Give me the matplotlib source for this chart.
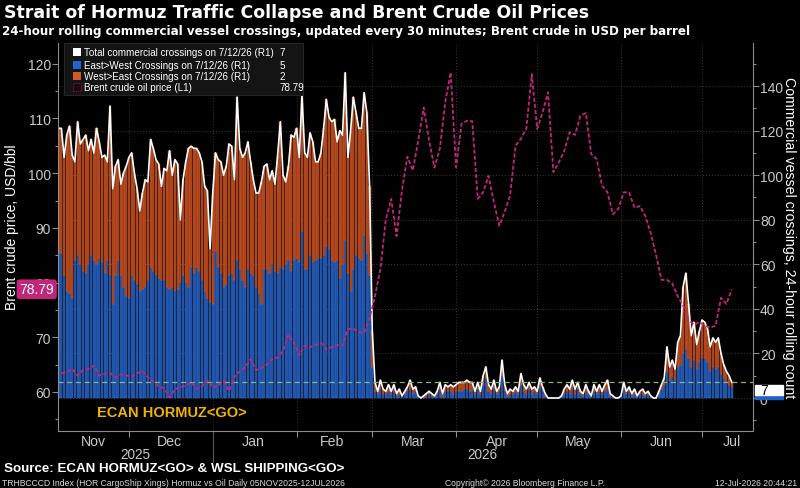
import numpy as np
import pandas as pd
import matplotlib
matplotlib.use("Agg")
import matplotlib.pyplot as plt
import matplotlib.dates as mdates
import matplotlib.transforms as mtrans
from matplotlib.patches import Rectangle
from matplotlib.ticker import MultipleLocator, NullFormatter

# ---------------- data ----------------
start_date = "2025-11-05"

total_crossings = [
    121, 121, 108, 118, 122, 109, 106, 124, 114, 116,
    118, 111, 116, 110, 121, 115, 108, 109, 106, 131,
    94, 104, 107, 96, 101, 104, 108, 110, 101, 94,
    84, 92, 98, 97, 116, 112, 107, 105, 95, 103,
    102, 111, 100, 107, 105, 80, 98, 106, 112, 113,
    112, 112, 110, 106, 95, 93, 67, 92, 110, 107,
    106, 100, 104, 114, 113, 98, 135, 112, 108, 110,
    115, 106, 98, 92, 92, 97, 104, 105, 98, 102,
    96, 109, 124, 100, 97, 104, 118, 117, 121, 108,
    136, 110, 108, 119, 115, 106, 106, 110, 121, 134,
    126, 124, 125, 115, 120, 118, 146, 108, 120, 135,
    128, 121, 121, 137, 128, 95, 30, 7, 3, 8,
    4, 3, 6, 3, 6, 2, 4, 1, 3, 5,
    8, 4, 5, 1, 0, 1, 2, 3, 2, 1,
    3, 7, 2, 6, 5, 6, 5, 6, 7, 7,
    7, 8, 7, 7, 3, 7, 3, 10, 14, 6,
    4, 8, 3, 5, 17, 6, 2, 4, 3, 5,
    3, 11, 6, 4, 7, 4, 5, 3, 9, 5,
    2, 0, 0, 0, 0, 0, 1, 4, 6, 4,
    8, 4, 7, 3, 2, 6, 3, 1, 6, 3,
    6, 3, 6, 8, 2, 1, 0, 0, 1, 7,
    3, 5, 2, 4, 1, 3, 4, 2, 3, 1,
    0, 0, 3, 6, 9, 23, 14, 17, 13, 25,
    28, 50, 56, 42, 28, 34, 24, 30, 35, 34,
    31, 23, 27, 25, 27, 20, 15, 12, 10, 7,
]

east_west_crossings = [
    65, 65, 55, 48, 47, 45, 62, 64, 60, 57,
    56, 60, 64, 62, 60, 63, 61, 56, 62, 55,
    42, 55, 62, 55, 50, 46, 45, 55, 53, 51,
    48, 49, 50, 53, 59, 57, 55, 54, 53, 53,
    50, 49, 50, 48, 49, 52, 55, 52, 50, 59,
    56, 59, 57, 53, 48, 45, 43, 42, 66, 59,
    56, 50, 51, 55, 56, 53, 62, 58, 53, 50,
    58, 56, 55, 50, 47, 42, 58, 58, 56, 60,
    57, 56, 59, 58, 60, 62, 57, 62, 63, 61,
    75, 58, 58, 64, 61, 62, 63, 63, 64, 68,
    67, 62, 61, 62, 54, 60, 71, 56, 48, 58,
    64, 63, 62, 73, 65, 55, 14, 3, 2, 4,
    2, 2, 3, 2, 3, 1, 2, 1, 2, 3,
    4, 2, 3, 1, 0, 0, 1, 2, 1, 1,
    2, 4, 1, 3, 3, 3, 2, 3, 3, 3,
    4, 4, 3, 3, 2, 4, 2, 6, 9, 3,
    2, 4, 2, 3, 10, 3, 1, 2, 2, 3,
    2, 6, 3, 2, 4, 2, 3, 2, 5, 3,
    1, 0, 0, 0, 0, 0, 1, 2, 3, 2,
    4, 2, 4, 2, 1, 3, 2, 1, 3, 2,
    3, 2, 3, 4, 1, 1, 0, 0, 1, 4,
    2, 3, 1, 2, 1, 2, 2, 1, 2, 1,
    0, 0, 2, 4, 6, 12, 8, 10, 8, 14,
    15, 20, 22, 18, 14, 17, 13, 16, 18, 18,
    16, 12, 14, 13, 14, 11, 9, 7, 6, 5,
]

price_start = "2025-11-06"   # Brent sampled every 2 days
brent_price = [
    63.4, 63.7, 64.2, 63.0, 64.0, 64.2, 64.8, 63.0, 63.3, 63.5,
    62.7, 63.2, 63.0, 62.8, 63.4, 63.8, 62.7, 61.9, 61.0, 60.7,
    59.0, 60.5, 60.9, 61.2, 61.8, 60.6, 61.0, 62.1, 60.8, 61.2,
    62.0, 60.2, 62.8, 63.8, 64.5, 66.0, 64.0, 64.4, 65.0, 66.0,
    66.3, 67.5, 70.5, 69.0, 66.7, 68.5, 68.2, 68.6, 69.0, 67.8,
    68.2, 68.6, 68.5, 71.5, 71.6, 71.0, 70.8, 73.5, 77.5, 82.5,
    91.5, 95.3, 88.5, 97.0, 103.0, 100.5, 106.0, 112.0, 106.0, 101.0,
    104.5, 113.0, 118.4, 101.1, 109.0, 109.6, 109.5, 95.3, 96.5, 99.5,
    94.7, 90.4, 93.0, 96.0, 105.0, 106.3, 108.2, 118.1, 108.1, 111.1,
    114.8, 100.2, 102.0, 104.0, 107.5, 107.0, 110.5, 111.0, 103.5, 102.6,
    97.7, 96.5, 92.5, 93.5, 96.5, 96.5, 93.7, 94.0, 92.2, 89.0,
    85.0, 80.5, 80.5, 79.8, 77.5, 75.8, 73.2, 72.3, 72.8, 72.1,
    71.8, 72.1, 77.2, 76.1, 78.79,
]

month_labels = ["Nov", "Dec", "Jan", "Feb", "Mar", "Apr", "May", "Jun", "Jul"]
month_label_dates = ["2025-11-18", "2025-12-16", "2026-01-16", "2026-02-14",
                     "2026-03-16", "2026-04-16", "2026-05-16", "2026-06-16",
                     "2026-07-12"]
year_labels = ["2025", "2026"]

legend_labels = ["Total commercial crossings on 7/12/26 (R1)",
                 "East>West Crossings on 7/12/26 (R1)",
                 "West>East Crossings on 7/12/26 (R1)",
                 "Brent crude oil price (L1)"]
legend_values = ["7", "5", "2", "78.79"]

# ---------------- styling ----------------
BG = "black"
BLUE = "#1c4da0"
BLUE_E = "#3570cc"
ORANGE = "#a63e17"
ORANGE_E = "#cc5e2e"
MAGENTA = "#c2267a"
TICKC = "#c8c8c8"
AXC = "#8c8c8c"
SANS = ["Liberation Sans", "DejaVu Sans"]
WIDE = ["DejaVu Sans"]

plt.rcParams["font.family"] = SANS

W, H = 800, 489
fig = plt.figure(figsize=(W / 100, H / 100), dpi=100, facecolor=BG)


def fx(x):
    return x / W


def fy(y):
    return 1 - y / H


L, R, T, B = 58, 753, 44, 432
axr = fig.add_axes([fx(L), fy(B), (R - L) / W, (B - T) / H])
axr.set_facecolor(BG)
ax = axr.twinx()          # price axis (drawn on top)
ax.set_zorder(axr.get_zorder() + 1)
ax.patch.set_visible(False)

dates = pd.date_range(start_date, periods=len(total_crossings), freq="D")
pdates = pd.date_range(price_start, periods=len(brent_price), freq="2D")
tot = np.array(total_crossings, dtype=float)
east = np.array(east_west_crossings, dtype=float)

# bars on the right-hand scale
axr.bar(dates, east, width=0.8, color=BLUE, edgecolor=BLUE_E, linewidth=0.3, zorder=2)
axr.bar(dates, tot - east, bottom=east, width=0.8, color=ORANGE,
        edgecolor=ORANGE_E, linewidth=0.3, zorder=2)
axr.plot(dates, tot, color="white", lw=1.2, zorder=3)
axr.axhline(tot[-1], color="#7fb58a", lw=0.9, ls=(0, (4, 3)), zorder=4)

# price on the left-hand scale
ax.plot(pdates, brent_price, color=MAGENTA, lw=1.3, ls=(0, (2.2, 1.2)), zorder=5)

# the twin got its ticks on the right: swap so price is on the left
ax.yaxis.set_ticks_position("left")
ax.yaxis.set_label_position("left")
axr.yaxis.set_ticks_position("right")
axr.yaxis.set_label_position("right")

xmin = pd.Timestamp("2025-11-04 18:00")
xmax = pd.Timestamp("2026-07-19 20:00")
axr.set_xlim(xmin, xmax)

ax.set_ylim(52.87, 123.8)
axr.set_ylim(-14.8, 159.3)

ax.set_yticks(np.arange(60, 121, 10))
ax.yaxis.set_minor_locator(MultipleLocator(5))
axr.set_yticks(np.arange(0, 141, 20))
axr.yaxis.set_minor_locator(MultipleLocator(10))

for a in (ax, axr):
    for s in a.spines.values():
        s.set_visible(False)
ax.spines["left"].set_visible(True)
ax.spines["left"].set_color(AXC)
axr.spines["right"].set_visible(True)
axr.spines["right"].set_color(AXC)
axr.spines["bottom"].set_visible(True)
axr.spines["bottom"].set_color(AXC)

ax.tick_params(axis="y", which="major", colors=AXC, labelcolor=TICKC, length=4,
               width=0.8, labelsize=10, pad=1)
ax.tick_params(axis="y", which="minor", colors=AXC, length=2.5, width=0.8)
axr.tick_params(axis="y", which="major", colors=AXC, labelcolor=TICKC, length=4,
                width=0.8, labelsize=10, pad=1)
axr.tick_params(axis="y", which="minor", colors=AXC, length=2.5, width=0.8)

# x axis: month boundaries as ticks/grid, labels centred in months
axr.xaxis.set_major_locator(mdates.MonthLocator())
axr.xaxis.set_major_formatter(NullFormatter())
axr.set_xticks(pd.to_datetime(month_label_dates), minor=True)
axr.set_xticklabels(month_labels, minor=True)
axr.tick_params(axis="x", which="major", colors=AXC, length=4, width=0.8)
axr.tick_params(axis="x", which="minor", length=0, labelcolor=TICKC,
                labelsize=10.2, pad=2)
ax.tick_params(axis="x", which="both", length=0, labelbottom=False)

# grid
axr.set_axisbelow(True)
axr.grid(True, which="major", axis="both", color="#3a3a3a", lw=0.7, ls=(0, (1, 2)))

# year labels & separator
blend = mtrans.blended_transform_factory(axr.transData, axr.transAxes)
jan1 = pd.Timestamp("2026-01-01")
axr.plot([jan1, jan1], [0, -0.08], transform=blend, color="#555555", lw=0.8,
         clip_on=False)
axr.text(xmin + (jan1 - xmin) / 2, -0.06, year_labels[0], transform=blend,
         ha="center", va="center", color=TICKC, fontsize=9.8)
axr.text(jan1 + (xmax - jan1) / 2, -0.06, year_labels[1], transform=blend,
         ha="center", va="center", color=TICKC, fontsize=9.8)

# axis titles
fig.text(fx(12), fy(227), "Brent crude price, USD/bbl", rotation=90, color="white",
         fontsize=10, ha="center", va="center")
fig.text(fx(789), fy(238), "Commercial vessel crossings, 24-hour rolling count",
         rotation=270, color="white", fontsize=10.2, ha="center", va="center")

# left value tag
lblend = mtrans.blended_transform_factory(ax.transAxes, ax.transData)
ax.annotate(legend_values[3], xy=(0, brent_price[-1]), xycoords=lblend,
            xytext=(-4, 0), textcoords="offset pixels", ha="right", va="center",
            color="white", fontsize=10, annotation_clip=False,
            bbox=dict(boxstyle="round,pad=0.2,rounding_size=0.2", fc=MAGENTA,
                      ec="none"))

# right value tag (white box with blue strip below)
rblend = mtrans.blended_transform_factory(axr.transAxes, axr.transData)
axr.add_patch(Rectangle((1.003, -0.3), 0.04, 1.6, transform=rblend,
                        color="#2060c8", clip_on=False, zorder=6))
axr.add_patch(Rectangle((1.003, 1.3), 0.04, tot[-1] - 2.3, transform=rblend,
                        color="white", clip_on=False, zorder=6))
axr.text(1.011, 1.3 + (tot[-1] - 2.3) / 2, legend_values[0], transform=rblend,
         ha="left", va="center", color="black", fontsize=10, zorder=7,
         clip_on=False)

# in-chart source tag
fig.text(fx(97), fy(413), "ECAN HORMUZ<GO>", color="#f0b400", fontsize=10.5,
         fontweight="bold", ha="left", va="center")

# legend (drawn by hand)
fig.patches.append(Rectangle((fx(64), fy(96)), (303 - 64) / W, (96 - 44) / H,
                             transform=fig.transFigure, fc="#141414",
                             ec="#262626", lw=0.8, zorder=10))
rows_y = [53.3, 65.7, 76.7, 87.7]
sq_cols = ["white", "#2163d1", "#d2572a", None]
for yy, col, lab, val in zip(rows_y, sq_cols, legend_labels, legend_values):
    if col is not None:
        fig.patches.append(Rectangle((fx(73), fy(yy + 4)), 8 / W, 8 / H,
                                     transform=fig.transFigure, fc=col,
                                     ec="none", zorder=11))
    else:
        fig.patches.append(Rectangle((fx(73), fy(yy + 4)), 8 / W, 8 / H,
                                     transform=fig.transFigure, fc="#1a0a12",
                                     ec="#7a1848", lw=0.8, ls=(0, (1, 1)),
                                     zorder=11))
    fig.text(fx(84), fy(yy), lab, color="white", fontsize=7.1,
             ha="left", va="center", zorder=12)
    fig.text(fx(280), fy(yy), val, color="white", fontsize=7.1,
             ha="left", va="center", zorder=12)

# titles
fig.text(fx(4), fy(13), "Strait of Hormuz Traffic Collapse and Brent Crude Oil Prices",
         color="white", fontsize=12.5, fontweight="bold", family=WIDE,
         ha="left", va="center")
fig.text(fx(2), fy(31),
         "24-hour rolling commercial vessel crossings, updated every 30 minutes; "
         "Brent crude in USD per barrel",
         color="white", fontsize=8.6, fontweight="bold", family=WIDE,
         ha="left", va="center")

# footer
fig.text(fx(4), fy(469.5), "Source: ECAN HORMUZ<GO> & WSL SHIPPING<GO>", color="white",
         fontsize=9.6, fontweight="bold", ha="left", va="center")
fig.text(fx(2), fy(483.5),
         "TRHBCCCD Index (HOR CargoShip Xings) Hormuz vs Oil Daily 05NOV2025-12JUL2026",
         color="#d8d8d8", fontsize=6.2, ha="left", va="center")
fig.text(fx(445), fy(483.5), "Copyright\u00a9 2026 Bloomberg Finance L.P.",
         color="#d8d8d8", fontsize=6.2, ha="left", va="center")
fig.text(fx(797), fy(483.5), "12-Jul-2026 20:44:21", color="#d8d8d8", fontsize=6.2,
         ha="right", va="center")

fig.savefig("out.png", dpi=100, facecolor=BG)
